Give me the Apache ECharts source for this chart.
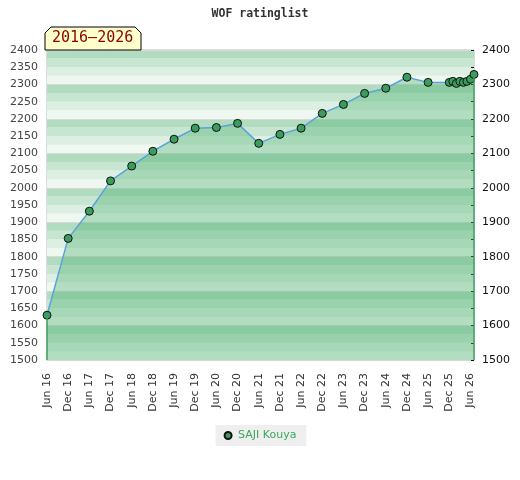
<!DOCTYPE html>
<html>
<head>
<meta charset="utf-8">
<title>WOF ratinglist</title>
<script src="https://cdn.jsdelivr.net/npm/echarts@6/dist/echarts.min.js"></script>
<style>
  html, body { margin: 0; padding: 0; background: #fff; }
  #chart { width: 520px; height: 480px; }
</style>
</head>
<body>
<div id="chart"></div>
<script>
// rating list dates (yyyy-mm) and ratings
let listDates = [
  '2016-06', '2016-12', '2017-06', '2017-12', '2018-06', '2018-12',
  '2019-06', '2019-12', '2020-06', '2020-12', '2021-06', '2021-12',
  '2022-06', '2022-12', '2023-06', '2023-12', '2024-06', '2024-12',
  '2025-06', '2025-12', '2026-01', '2026-02', '2026-03', '2026-04',
  '2026-05', '2026-06', '2026-07'
]
let ratings = [
  1630, 1853, 1932, 2020, 2063, 2106,
  2141, 2173, 2175, 2187, 2129, 2155,
  2173, 2216, 2242, 2274, 2289, 2321,
  2306, 2306, 2309, 2303, 2309, 2306,
  2309, 2315, 2329
]
let monthNames = ['Jan', 'Feb', 'Mar', 'Apr', 'May', 'Jun', 'Jul', 'Aug', 'Sep', 'Oct', 'Nov', 'Dec']
let playerName = 'SAJI Kouya'
let periodLabel = '2016\u20132026'
let yMin = 1500
let yMax = 2400

// months counted from the first list
let startYear = 2016
let startMonth = 6
function toIndex (d) {
  let parts = d.split('-')
  return (+parts[0] - startYear) * 12 + (+parts[1] - startMonth)
}
function indexLabel (i) {
  let m = (startMonth - 1 + i) % 12
  let y = startYear + Math.floor((startMonth - 1 + i) / 12)
  return monthNames[m] + ' ' + String(y).slice(2)
}

let points = listDates.map((d, i) => [toIndex(d), ratings[i]])
let first = points[0]
let last = points[points.length - 1]

let chart = echarts.init(document.getElementById('chart'))
chart.setOption({
  animation: false,
  title: {
    text: 'WOF ratinglist',
    left: 'center',
    top: 3,
    textStyle: { fontFamily: 'DejaVu Sans Mono', fontSize: 11.5, fontWeight: 'bold', color: '#333' }
  },
  grid: {
    left: 47, right: 46, top: 50, bottom: 120,
    show: true, borderColor: '#d2d2d2', borderWidth: 1.5, backgroundColor: 'transparent'
  },
  legend: {
    bottom: 34,
    left: 'center',
    backgroundColor: '#efefef',
    padding: [5, 10, 5, 8],
    itemWidth: 10,
    itemHeight: 7,
    itemGap: 6,
    textStyle: { fontFamily: 'DejaVu Sans', fontSize: 11, color: '#3aa85e' },
    data: [{ name: playerName, icon: 'circle' }]
  },
  xAxis: {
    type: 'value',
    min: 0,
    max: last[0],
    interval: 6,
    axisLine: { show: false },
    axisTick: { show: false },
    splitLine: { show: false },
    axisLabel: {
      rotate: 90,
      margin: 13,
      fontFamily: 'DejaVu Sans',
      fontSize: 11,
      color: '#333',
      showMaxLabel: false,
      formatter: v => indexLabel(v)
    }
  },
  yAxis: [
    {
      type: 'value',
      min: yMin,
      max: yMax,
      interval: 25,
      axisLine: { show: false },
      axisTick: { show: false },
      splitLine: { show: false },
      splitArea: {
        show: true,
        areaStyle: { color: ['#eff7f1', '#dcefe2', '#c7e6d1', '#b2dcc0'] }
      },
      axisLabel: {
        margin: 9,
        fontFamily: 'DejaVu Sans',
        fontSize: 11,
        color: '#444',
        formatter: v => (v % 50 === 0 ? String(v) : '')
      }
    },
    {
      type: 'value',
      position: 'right',
      min: yMin,
      max: yMax,
      interval: 100,
      axisLine: { show: false },
      axisTick: { show: true, inside: true, length: 3, lineStyle: { color: '#111' } },
      minorTick: { show: true, splitNumber: 2, length: 3, lineStyle: { color: '#111' } },
      splitLine: { show: true, lineStyle: { color: '#d8d8d8', width: 1 } },
      axisLabel: {
        margin: 8,
        fontFamily: 'DejaVu Sans',
        fontSize: 11,
        color: '#111',
        formatter: v => String(v)
      }
    }
  ],
  series: [
    {
      name: playerName,
      type: 'line',
      yAxisIndex: 0,
      data: points,
      symbol: 'circle',
      symbolSize: 8,
      lineStyle: { color: '#5ba3da', width: 1.5 },
      itemStyle: { color: '#3a9d5d', borderColor: '#111', borderWidth: 1 },
      areaStyle: { color: 'rgba(69,173,106,0.5)', origin: 'start' },
      markLine: {
        silent: true,
        symbol: ['none', 'none'],
        label: { show: false },
        lineStyle: { color: '#3f9f60', width: 1.5, type: 'solid' },
        data: [
          [{ coord: [first[0], yMin] }, { coord: [first[0], first[1]] }],
          [{ coord: [last[0], yMin] }, { coord: [last[0], last[1]] }]
        ]
      },
      z: 3
    }
  ],
  graphic: [
    {
      type: 'polygon',
      shape: { points: [[45, 33], [51, 27], [135, 27], [141, 33], [141, 50], [45, 50]] },
      style: { fill: '#ffffcc', stroke: '#000', lineWidth: 1 },
      z: 10
    },
    {
      type: 'text',
      left: 52,
      top: 31,
      style: {
        text: periodLabel,
        font: '15px "DejaVu Sans Mono"',
        fill: '#8b0000'
      },
      z: 11
    }
  ]
})
</script>
</body>
</html>
